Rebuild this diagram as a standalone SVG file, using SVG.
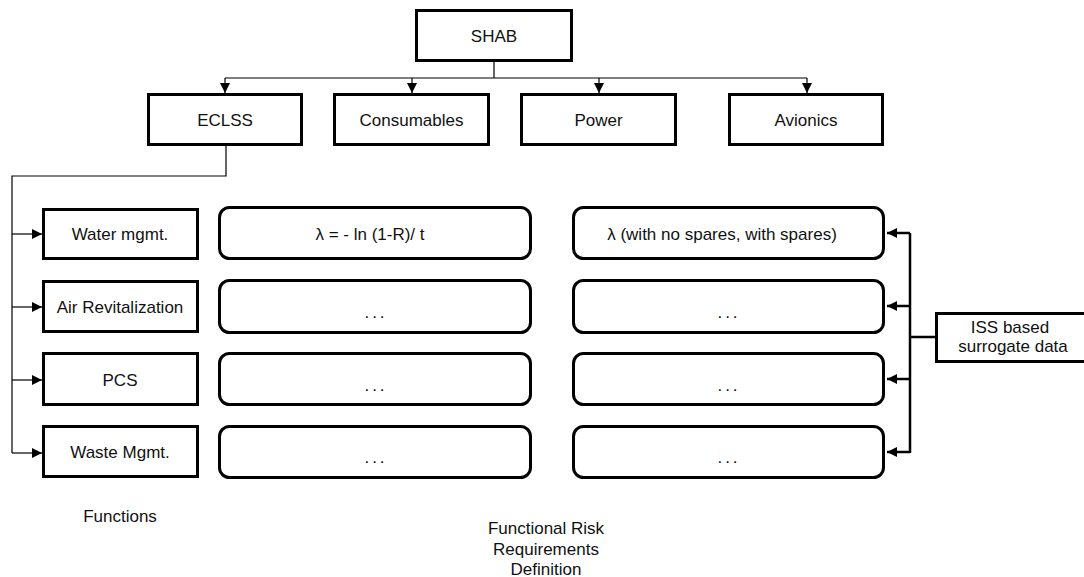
<svg xmlns="http://www.w3.org/2000/svg" width="1084" height="577" viewBox="0 0 1084 577">
<defs>
<style>
.box{fill:#fff;stroke:#000;stroke-width:3}
.rbox{fill:#fff;stroke:#000;stroke-width:3}
.t{font-family:"Liberation Sans",Arial,sans-serif;font-size:17px;fill:#111;text-anchor:middle}
.dots{letter-spacing:3px}
.thin{fill:none;stroke:#000;stroke-width:1.2}
.thick{fill:none;stroke:#000;stroke-width:2.5}
</style>
<marker id="ah" markerUnits="userSpaceOnUse" markerWidth="10" markerHeight="10" refX="10" refY="5" orient="auto">
<path d="M0,0 L10,5 L0,10 z" fill="#000"/>
</marker>
</defs>
<rect width="1084" height="577" fill="#fff"/>

<g id="connectors">
<path class="thin" d="M494,62 V78 M225,78 H807"/>
<path class="thin" d="M225,78 V93" marker-end="url(#ah)"/>
<path class="thin" d="M412,78 V93" marker-end="url(#ah)"/>
<path class="thin" d="M599,78 V93" marker-end="url(#ah)"/>
<path class="thin" d="M807,78 V93" marker-end="url(#ah)"/>
<path class="thin" d="M226,146 V176 H12 V453"/>
<path class="thin" d="M12,234 H42" marker-end="url(#ah)"/>
<path class="thin" d="M12,307 H42" marker-end="url(#ah)"/>
<path class="thin" d="M12,380 H42" marker-end="url(#ah)"/>
<path class="thin" d="M12,453 H42" marker-end="url(#ah)"/>
<path class="thick" d="M910,233 V453 M910,337 H935"/>
<path class="thick" d="M910,233 H887" marker-end="url(#ah)"/>
<path class="thick" d="M910,306 H887" marker-end="url(#ah)"/>
<path class="thick" d="M910,379 H887" marker-end="url(#ah)"/>
<path class="thick" d="M910,452 H887" marker-end="url(#ah)"/>
</g>

<g id="shab"><rect class="box" x="416.5" y="10.5" width="155" height="50"/><text class="t" x="494" y="42">SHAB</text></g>
<g id="eclss"><rect class="box" x="148.5" y="94.5" width="153" height="50"/><text class="t" x="225" y="126">ECLSS</text></g>
<g id="consumables"><rect class="box" x="334.5" y="94.5" width="154" height="50"/><text class="t" x="411.5" y="126">Consumables</text></g>
<g id="power"><rect class="box" x="521.5" y="94.5" width="154" height="50"/><text class="t" x="598.5" y="126">Power</text></g>
<g id="avionics"><rect class="box" x="729.5" y="94.5" width="153" height="50"/><text class="t" x="806" y="126">Avionics</text></g>

<g id="water"><rect class="box" x="43.5" y="209.5" width="154" height="49"/><text class="t" x="120" y="240">Water mgmt.</text></g>
<g id="air"><rect class="box" x="43.5" y="281.5" width="154" height="50"/><text class="t" x="120" y="313">Air Revitalization</text></g>
<g id="pcs"><rect class="box" x="43.5" y="353.5" width="154" height="51"/><text class="t" x="120" y="386">PCS</text></g>
<g id="waste"><rect class="box" x="43.5" y="426.5" width="154" height="50"/><text class="t" x="120" y="458">Waste Mgmt.</text></g>

<g id="risk1"><rect class="rbox" x="219.5" y="207.5" width="311" height="51" rx="10"/><text class="t" x="370" y="240">λ = - ln (1-R)/ t</text></g>
<g id="risk2"><rect class="rbox" x="219.5" y="280.5" width="311" height="52" rx="10"/><text class="t dots" x="376" y="318">...</text></g>
<g id="risk3"><rect class="rbox" x="219.5" y="353.5" width="311" height="51" rx="10"/><text class="t dots" x="376" y="391">...</text></g>
<g id="risk4"><rect class="rbox" x="219.5" y="426.5" width="311" height="51" rx="10"/><text class="t dots" x="376" y="463">...</text></g>

<g id="data1"><rect class="rbox" x="573.5" y="207.5" width="310" height="51" rx="10"/><text class="t" x="722" y="240">λ (with no spares, with spares)</text></g>
<g id="data2"><rect class="rbox" x="573.5" y="280.5" width="310" height="52" rx="10"/><text class="t dots" x="729" y="318">...</text></g>
<g id="data3"><rect class="rbox" x="573.5" y="353.5" width="310" height="51" rx="10"/><text class="t dots" x="729" y="391">...</text></g>
<g id="data4"><rect class="rbox" x="573.5" y="426.5" width="310" height="51" rx="10"/><text class="t dots" x="729" y="463">...</text></g>

<g id="iss"><rect class="box" x="936.5" y="313.5" width="160" height="48"/><text class="t" x="1010" y="333">ISS based</text><text class="t" x="1013" y="352">surrogate data</text></g>

<g id="labels">
<text class="t" x="120" y="522">Functions</text>
<text class="t" x="546" y="534">Functional Risk</text>
<text class="t" x="546" y="555">Requirements</text>
<text class="t" x="546" y="575">Definition</text>
</g>
</svg>
